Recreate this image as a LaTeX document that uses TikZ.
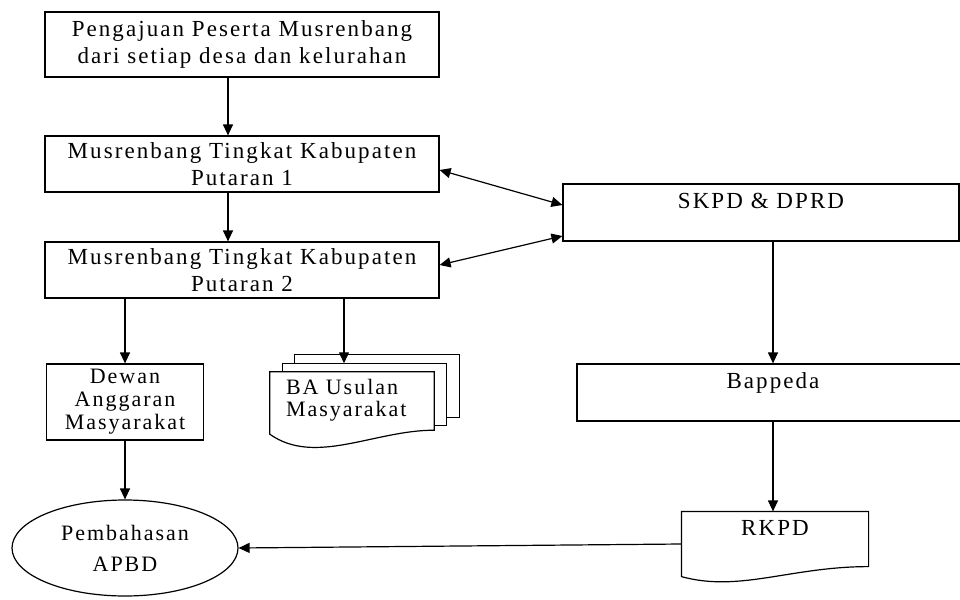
\documentclass[tikz,border=0pt]{standalone}
\usepackage{fontspec}
\setmainfont[LetterSpace=9]{Liberation Serif}
\usetikzlibrary{arrows.meta,shapes.geometric,backgrounds}

\tikzset{
    box/.style={draw, line width=1.2pt, inner sep=0pt, align=center,
        font=\fontsize{23}{27}\selectfont},
    topbox/.style={draw, line width=1.2pt, inner sep=0pt,
        font=\fontsize{23}{27}\selectfont, text height=24pt, text depth=33pt},
    doc/.style={line width=1.2pt, fill=white},
    arr/.style={line width=1.2pt, -{Triangle[length=11pt,width=10pt]}},
    dblarr/.style={line width=1.2pt,
        {Triangle[length=11pt,width=10pt]}-{Triangle[length=11pt,width=10pt]}},
}

\begin{document}
\begin{tikzpicture}[x=1pt,y=-1pt]
    \useasboundingbox (0,0) rectangle (960,599);
    \clip (0,0) rectangle (960,599);

    % left column
    \node[box, minimum width=394, minimum height=65] (peng) at (242,44.5)
        {Pengajuan Peserta Musrenbang\\dari setiap desa dan kelurahan};
    \node[box, minimum width=394, minimum height=56] (put1) at (242,164)
        {Musrenbang Tingkat Kabupaten\\Putaran 1};
    \node[box, minimum width=394, minimum height=56] (put2) at (242,270)
        {Musrenbang Tingkat Kabupaten\\Putaran 2};
    \node[box, font=\fontsize{22}{23}\selectfont, minimum width=157,
        minimum height=76] (dewan) at (125,402) {Dewan\\Anggaran\\Masyarakat};
    \node[box, ellipse, font=\fontsize{22}{31}\selectfont, minimum width=226,
        minimum height=96] (apbd) at (125,548) {Pembahasan\\APBD};
    \node[align=left, text width=132, inner xsep=16, inner ysep=0,
        minimum height=62, font=\fontsize{22}{22}\selectfont] (ba) at (352,403)
        {BA Usulan\\Masyarakat\\[-12pt]\mbox{}};
    \coordinate (batop) at ([xshift=-8pt,yshift=8.5pt]ba.north);

    % right column
    \node[topbox, minimum width=396] (skpd) at (761,212.5) {SKPD \& DPRD};
    \node[topbox, minimum width=392] (bapp) at (773,392.5) {Bappeda};
    \node[topbox, draw=none, minimum width=186, text height=23pt,
        text depth=41pt] (rkpd) at (775,544) {RKPD};

    % document shapes
    \begin{scope}[on background layer]
        \draw[doc] ([xshift=25pt,yshift=17pt]ba.north west)
            rectangle ([xshift=25pt,yshift=17pt]ba.south east);
        \draw[doc] ([xshift=12.5pt,yshift=8.5pt]ba.north west)
            rectangle ([xshift=12.5pt,yshift=8.5pt]ba.south east);
        \draw[doc] (ba.north west) -- (ba.north east) -- ([yshift=4pt]ba.south east)
            .. controls +(-60,0) and +(45,32) .. (ba.south west) -- cycle;
        \draw[doc] (rkpd.north west) -- (rkpd.north east) -- ([yshift=10pt]rkpd.south east)
            .. controls +(-78,0) and +(58,16) .. (rkpd.south west) -- cycle;
    \end{scope}

    % connectors
    \draw[arr] ([xshift=-14pt]peng.south) -- ([xshift=-14pt]put1.north);
    \draw[arr] ([xshift=-14pt]put1.south) -- ([xshift=-14pt]put2.north);
    \draw[arr] (put2.south -| dewan.north) -- (dewan.north);
    \draw[arr] (put2.south -| batop) -- (batop);
    \draw[arr] (dewan.south) -- (apbd.north);
    \draw[dblarr] ([yshift=-6pt]put1.east) -- ([yshift=7.5pt]skpd.west);
    \draw[dblarr] ([yshift=5pt]put2.east) -- ([yshift=-23.5pt]skpd.west);
    \draw[arr] (skpd.south -| bapp.north) -- (bapp.north);
    \draw[arr] (bapp.south) -- (rkpd.north -| bapp.south);
    \draw[arr] (rkpd.west) -- (apbd.east);
\end{tikzpicture}
\end{document}
